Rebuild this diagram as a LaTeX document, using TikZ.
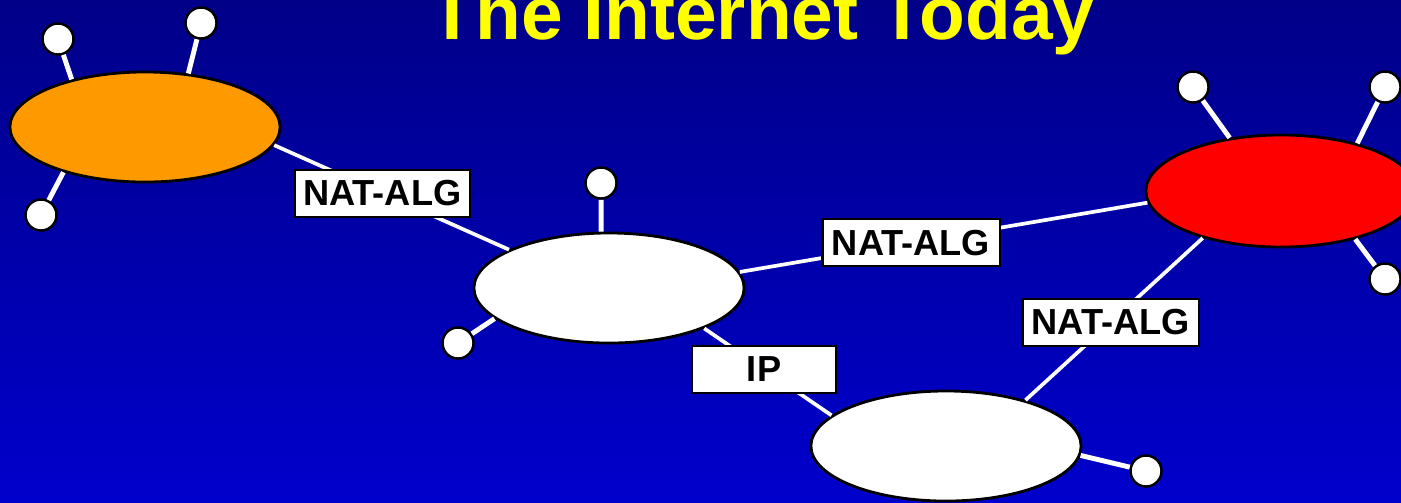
\documentclass[tikz,border=0pt]{standalone}
\usepackage{fontspec}
\setmainfont{Liberation Sans}
\usetikzlibrary{shapes.geometric,positioning}

\definecolor{bgtop}{RGB}{0,0,136}
\definecolor{bgbot}{RGB}{0,0,204}
\definecolor{netorange}{RGB}{255,153,0}
\definecolor{netred}{RGB}{255,0,0}
\definecolor{titleyellow}{RGB}{255,255,0}

\tikzset{
  net/.style={ellipse, draw=black, line width=0.8pt, minimum width=2.7cm, minimum height=1.1cm, inner sep=0pt},
  host/.style={circle, draw=black, fill=white, line width=0.7pt, minimum size=0.31cm, inner sep=0pt},
  spoke/.style={white, line width=1.4pt},
  link/.style={white, line width=1.05pt},
  tag/.style={draw=black, fill=white, text=black, line width=0.6pt, font=\bfseries\fontsize{10.3}{12}\selectfont, minimum height=0.47cm, inner sep=0pt}
}

\begin{document}
\begin{tikzpicture}[x=0.01cm,y=0.01cm]
    \useasboundingbox (0,0) rectangle (1401,-502);
    \clip (0,0) rectangle (1401,-502);
    \shade[top color=bgtop, bottom color=bgbot] (0,0) rectangle (1401,-502);

    \node[font=\bfseries\fontsize{21.3}{24}\selectfont, text=titleyellow, anchor=base, inner sep=0pt] (title) at (762,-39) {The Internet Today};

    % networks
    \node[net, fill=netorange] (west) at (145,-127) {};
    \node[net, fill=white] (hub) at (609,-288) {};
    \node[net, fill=white] (south) at (946,-446) {};
    \node[net, fill=netred, minimum height=1.12cm] (east) at (1281,-191) {};

    % hosts
    \node[host] (w1) at (58,-39) {};
    \node[host] (w2) at (201,-23) {};
    \node[host] (w3) at (41,-215) {};
    \node[host] (h1) at (601,-183) {};
    \node[host] (h2) at (458,-343) {};
    \node[host] (s1) at (1146,-471) {};
    \node[host] (e1) at (1193,-87) {};
    \node[host] (e2) at (1385,-87) {};
    \node[host] (e3) at (1385,-279) {};

    \draw[spoke] (w1) -- (west.147);
    \draw[spoke] (w2) -- (west.51);
    \draw[spoke] (w3) -- (west.209);
    \draw[spoke] (h1) -- (hub.98);
    \draw[spoke] (h2) -- (hub.195);
    \draw[spoke] (s1) -- (south.-4);
    \draw[spoke] (e1) -- (east.134);
    \draw[spoke] (e2) -- (east.32);
    \draw[spoke] (e3) -- (east.-33);

    % links between networks
    \draw[link] (west.-8) -- node[tag, minimum width=1.75cm, pos=0.46] (alg1) {NAT-ALG} (hub.159);
    \draw[link] (hub.7) -- node[tag, minimum width=1.77cm, pos=0.42] (alg2) {NAT-ALG} (east.185);
    \draw[link] (east.211) -- node[tag, minimum width=1.76cm, pos=0.52] (alg3) {NAT-ALG} (south.30);
    \draw[link] (hub.-23) -- node[tag, minimum width=1.44cm, pos=0.47] (ip) {IP} (south.165);
\end{tikzpicture}
\end{document}
